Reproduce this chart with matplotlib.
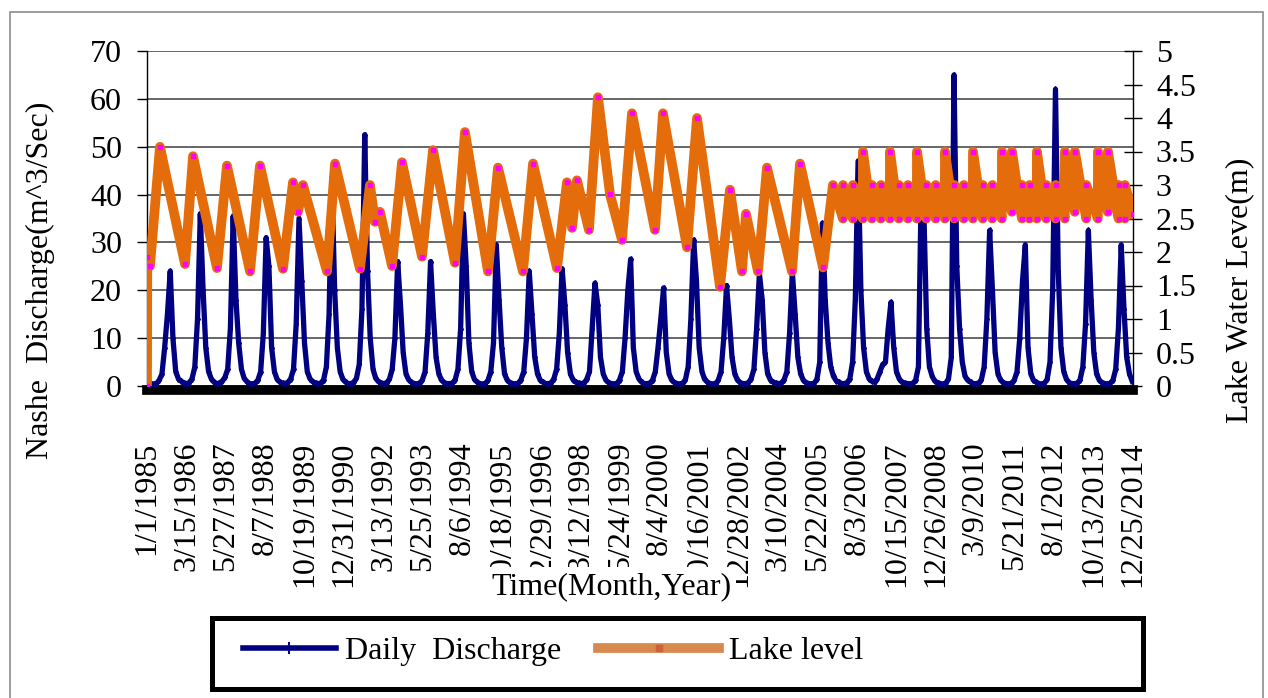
import pandas as pd
import numpy as np
import matplotlib
matplotlib.use('Agg')
import matplotlib.pyplot as plt
from matplotlib.lines import Line2D
from matplotlib.patches import Rectangle

plt.rcParams['font.family'] = ['Liberation Serif', 'DejaVu Serif']

# monthly discharge (m^3/s), Jan..Dec for each year 1985-2014
discharge = [
    0.8, 0.5, 0.4, 0.5, 1.2, 2.5, 8.0, 15.0, 24.0, 10.0, 3.0, 1.5,   # 1985
    1.0, 0.6, 0.5, 0.7, 1.5, 4.0, 14.0, 36.0, 20.0, 8.0, 3.0, 1.5,   # 1986
    0.8, 0.5, 0.6, 1.0, 1.8, 3.5, 12.0, 35.5, 18.0, 9.0, 3.5, 1.6,   # 1987
    0.9, 0.5, 0.4, 0.6, 1.2, 3.0, 11.0, 31.0, 25.0, 8.0, 3.0, 1.4,   # 1988
    0.8, 0.6, 0.5, 0.8, 1.5, 3.5, 13.0, 35.0, 22.0, 9.0, 3.0, 1.5,   # 1989
    0.9, 0.6, 0.5, 0.6, 1.3, 4.0, 15.0, 43.5, 20.0, 8.0, 3.0, 1.4,   # 1990
    0.8, 0.5, 0.5, 0.8, 1.6, 4.5, 16.0, 52.5, 24.0, 10.0, 3.5, 1.6,  # 1991
    0.9, 0.6, 0.5, 0.7, 1.4, 3.5, 10.0, 26.0, 17.0, 7.0, 2.5, 1.3,   # 1992
    0.8, 0.5, 0.4, 0.6, 1.2, 3.0, 11.0, 26.0, 15.0, 6.0, 2.5, 1.2,   # 1993
    0.7, 0.5, 0.5, 0.6, 1.3, 3.5, 12.0, 36.0, 25.0, 9.0, 3.0, 1.4,   # 1994
    0.8, 0.5, 0.4, 0.5, 1.2, 3.0, 9.0, 29.5, 18.0, 8.0, 2.5, 1.2,    # 1995
    0.7, 0.5, 0.4, 0.6, 1.3, 3.0, 10.0, 24.0, 15.0, 6.0, 2.5, 1.2,   # 1996
    0.8, 0.5, 0.5, 0.6, 1.5, 3.5, 11.0, 24.5, 17.0, 7.0, 2.5, 1.3,   # 1997
    0.8, 0.6, 0.5, 0.6, 1.4, 3.0, 12.0, 21.5, 17.0, 6.0, 2.5, 1.2,   # 1998
    0.7, 0.5, 0.4, 0.5, 1.3, 3.0, 10.0, 20.0, 26.5, 8.0, 3.0, 1.5,   # 1999
    0.8, 0.5, 0.5, 0.6, 1.2, 3.0, 8.0, 14.0, 20.5, 7.0, 2.5, 1.2,    # 2000
    0.7, 0.5, 0.4, 0.6, 1.3, 4.0, 14.0, 30.5, 22.0, 8.0, 3.0, 1.4,   # 2001
    0.8, 0.5, 0.4, 0.5, 1.2, 3.0, 10.0, 21.0, 14.0, 6.0, 2.5, 1.2,   # 2002
    0.7, 0.5, 0.5, 0.7, 1.5, 3.5, 12.0, 23.5, 18.0, 7.0, 2.5, 1.3,   # 2003
    0.8, 0.6, 0.5, 0.6, 1.3, 3.0, 11.0, 23.8, 15.0, 6.0, 2.5, 1.2,   # 2004
    0.7, 0.5, 0.4, 0.6, 1.4, 5.0, 34.0, 18.0, 9.0, 4.0, 2.0, 1.1,    # 2005
    0.8, 0.5, 0.5, 0.7, 1.5, 5.0, 18.0, 47.0, 20.0, 8.0, 3.0, 1.5,   # 2006
    1.0, 0.8, 1.5, 3.0, 4.5, 5.0, 12.0, 17.5, 8.0, 3.0, 1.5, 0.8,    # 2007
    0.6, 0.5, 0.4, 0.6, 1.2, 4.0, 40.0, 36.0, 12.0, 4.0, 2.0, 1.0,   # 2008
    0.7, 0.5, 0.4, 0.6, 1.5, 6.0, 65.0, 25.0, 12.0, 5.0, 2.0, 1.2,   # 2009
    0.8, 0.5, 0.5, 0.6, 1.3, 4.0, 14.0, 32.5, 20.0, 7.0, 2.5, 1.2,   # 2010
    0.7, 0.5, 0.4, 0.6, 1.2, 3.0, 10.0, 22.0, 29.5, 8.0, 2.5, 1.2,   # 2011
    0.8, 0.5, 0.4, 0.6, 1.4, 5.0, 20.0, 62.0, 24.0, 8.0, 3.0, 1.4,   # 2012
    0.7, 0.5, 0.5, 0.6, 1.3, 4.0, 13.0, 32.5, 18.0, 7.0, 2.5, 1.2,   # 2013
    0.7, 0.5, 0.4, 0.6, 1.2, 3.5, 12.0, 29.5, 16.0, 6.0, 2.5, 1.0,   # 2014
]

# lake level turning points: days since 1/1/1985 and level (m)
lake_day = [0, 3, 33, 144, 422, 511, 777, 888, 1144, 1255, 1510, 1621, 1677, 1732,
            1999, 2088, 2365, 2476, 2532, 2587, 2721, 2832, 3054, 3176, 3420, 3531,
            3787, 3898, 4175, 4287, 4553, 4664, 4720, 4775, 4908, 5008, 5142, 5275,
            5386, 5641, 5730, 5997, 6108, 6363, 6474, 6607, 6652, 6785, 6885, 7163,
            7252, 7507, 7618,
            7728, 7730, 7838, 7840, 7949,
            7951, 8049, 8051, 8149, 8151, 8249,
            8251, 8349, 8351, 8449, 8451, 8549,
            8551, 8654, 8656, 8757, 8759, 8860,
            8862, 8965, 8967, 9069, 9071, 9171,
            9173, 9280, 9282, 9387, 9389, 9493,
            9495, 9604, 9606, 9716, 9718, 9800, 9802, 9881,
            9883, 9986, 9988, 10090, 10092, 10192,
            10194, 10303, 10305, 10430, 10432, 10559,
            10561, 10670, 10672, 10790, 10792, 10858, 10860, 10950]
lake_level = [0.0, 1.93, 1.79, 3.57, 1.82, 3.43, 1.76, 3.29, 1.71, 3.29, 1.75, 3.04, 2.6, 3.0,
              1.71, 3.32, 1.75, 3.0, 2.45, 2.6, 1.79, 3.34, 1.93, 3.52, 1.84, 3.79,
              1.71, 3.26, 1.71, 3.32, 1.76, 3.04, 2.36, 3.07, 2.33, 4.31, 2.86, 2.18,
              4.07, 2.33, 4.07, 2.07, 4.0, 1.48, 2.93, 1.71, 2.57, 1.71, 3.26, 1.71,
              3.32, 1.77, 3.0,
              2.5, 3.0, 2.5, 3.0, 2.5,
              3.5, 2.5, 3.0, 2.5, 3.0, 2.5,
              3.5, 2.5, 3.0, 2.5, 3.0, 2.5,
              3.5, 2.5, 3.0, 2.5, 3.0, 2.5,
              3.5, 2.5, 3.0, 2.5, 3.0, 2.5,
              3.5, 2.5, 3.0, 2.5, 3.0, 2.5,
              3.5, 2.6, 3.5, 2.5, 3.0, 2.5, 3.0, 2.5,
              3.5, 2.5, 3.0, 2.5, 3.0, 2.5,
              3.5, 2.6, 3.5, 2.5, 3.0, 2.5,
              3.5, 2.6, 3.5, 2.5, 3.0, 2.5, 3.0, 2.57]

tick_labels = ['1/1/1985', '3/15/1986', '5/27/1987', '8/7/1988', '10/19/1989', '12/31/1990',
               '3/13/1992', '5/25/1993', '8/6/1994', '10/18/1995', '12/29/1996', '3/12/1998',
               '5/24/1999', '8/4/2000', '10/16/2001', '12/28/2002', '3/10/2004', '5/22/2005',
               '8/3/2006', '10/15/2007', '12/26/2008', '3/9/2010', '5/21/2011', '8/1/2012',
               '10/13/2013', '12/25/2014']

start = pd.Timestamp('1985-01-01')
months = pd.date_range('1985-01-01', periods=len(discharge), freq='MS')
q_day = (months - start).days.values + 15
tick_day = [(pd.Timestamp(t) - start).days for t in tick_labels]

fs = 23
fig = plt.figure(figsize=(12.68, 6.98), dpi=100)
W, H = 1268, 698
ax = fig.add_axes([147 / W, 1 - 386 / H, 986 / W, 335 / H])

ax.plot(q_day, discharge, color='#000080', lw=3.8, marker='d', ms=3, zorder=3)
ax.set_xlim(0, 10950)
ax.set_ylim(0, 70)
ax.set_yticks(range(0, 71, 10))
ax.grid(axis='y', color='#4d4d4d', lw=1.2)
ax.set_axisbelow(True)
ax.set_xticks(tick_day)
ax.set_xticklabels(tick_labels)
ax.tick_params(axis='x', length=0, pad=37, labelsize=fs, labelrotation=90)
for lbl in ax.get_xticklabels():
    lbl.set_va('top')
    lbl.set_ha('center')
ax.tick_params(axis='y', direction='out', length=7, width=1, pad=11, labelsize=fs)
ax.spines['top'].set_visible(False)
ax.spines['right'].set_visible(False)
ax.spines['bottom'].set_linewidth(7)
ax.spines['bottom'].set_position(('outward', 3))
ax.spines['left'].set_linewidth(1)

ax2 = ax.twinx()
ax2.plot(lake_day, lake_level, color='#e46c0a', lw=7, solid_joinstyle='round',
         marker='s', ms=3, mfc='#ff00ff', mec='#ff00ff', zorder=4)
ax2.set_ylim(0, 5)
ax2.set_yticks(np.arange(0, 5.01, 0.5))
ax2.set_yticklabels(['0', '0.5', '1', '1.5', '2', '2.5', '3', '3.5', '4', '4.5', '5'])
ax2.tick_params(axis='y', direction='inout', length=13, width=1, pad=10, labelsize=fs)
for s in ['top', 'left', 'bottom']:
    ax2.spines[s].set_visible(False)
ax2.spines['right'].set_linewidth(1)

fig.text(40 / W, 1 - 280 / H, 'Nashe  Discharge(m^3/Sec)', rotation=90,
         ha='center', va='center', fontsize=fs)
fig.text(1240 / W, 1 - 290 / H, 'Lake Water Leve(m)', rotation=90,
         ha='center', va='center', fontsize=fs)
fig.text(611 / W, 1 - 587 / H, 'Time(Month,Year)', ha='center', va='center', fontsize=fs,
         bbox=dict(facecolor='white', edgecolor='none', pad=4))

# legend: two single-entry legends so each handle gets its own length
h_q = Line2D([], [], color='#000080', lw=4, marker='|', ms=8, mew=1.5)
h_l = Line2D([], [], color='#d7894e', lw=7, marker='s', ms=4, mfc='#d0603a', mec='#d0603a')
leg_kw = dict(loc='center left', frameon=False, fontsize=fs, handletextpad=0.3,
              borderaxespad=0, borderpad=0)
fig.legend([h_q], ['Daily  Discharge'], bbox_to_anchor=(243 / W, 1 - 651 / H),
           handlelength=2.9, **leg_kw)
fig.legend([h_l], ['Lake level'], bbox_to_anchor=(598 / W, 1 - 651 / H),
           handlelength=3.8, **leg_kw)
fig.add_artist(Rectangle((212 / W, 1 - 689 / H), 931 / W, 71 / H, transform=fig.transFigure,
                         fill=False, ec='black', lw=3.6))
fig.add_artist(Rectangle((10 / W, -0.05), 1253 / W, 1.05 - 12 / H, transform=fig.transFigure,
                         fill=False, ec='#8c8c8c', lw=1.2))

fig.savefig('out.png', dpi=100)
